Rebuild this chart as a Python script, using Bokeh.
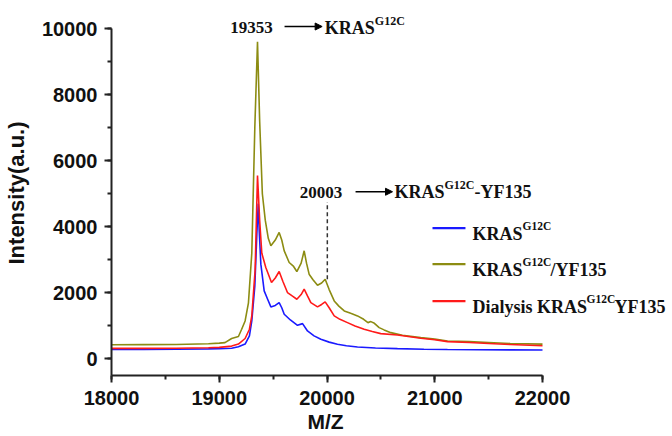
from bokeh.plotting import figure
from bokeh.models import Range1d, SingleIntervalTicker, Label, Arrow, NormalHead, Title
from bokeh.embed import file_html
from bokeh.resources import INLINE

# ---- data ----
blue_mz = [18000, 18300, 18600, 18900, 19000, 19115, 19178, 19240, 19280, 19302, 19330, 19349, 19362,
           19371, 19386, 19417, 19450, 19479, 19520, 19556, 19580, 19603, 19660, 19726, 19773, 19819,
           19880, 19943, 20020, 20097, 20180, 20283, 20450, 20654, 20900, 21118, 21400, 21700, 22000]
blue_i = [290, 292, 295, 305, 310, 324, 370, 450, 700, 1150, 2200, 3800, 4700,
          3880, 2870, 2060, 1800, 1576, 1620, 1707, 1550, 1354, 1180, 1020, 1070, 848,
          700, 596, 510, 444, 400, 364, 330, 313, 295, 285, 280, 275, 270]

olive_mz = [18000, 18300, 18600, 18900, 19000, 19053, 19115, 19178, 19208, 19240, 19271, 19302, 19330,
            19355, 19375, 19400, 19427, 19455, 19479, 19520, 19556, 19580, 19603, 19649, 19690, 19720,
            19760, 19788, 19810, 19834, 19870, 19912, 19950, 19983, 20020, 20067, 20110, 20160, 20220,
            20283, 20340, 20380, 20407, 20440, 20484, 20530, 20592, 20700, 20870, 21000, 21118, 21321,
            21500, 21700, 22000]
olive_i = [430, 435, 440, 460, 480, 495, 620, 680, 900, 1150, 1700, 3200, 7000,
           9600, 7200, 5000, 4200, 3650, 3424, 3600, 3828, 3600, 3273, 2919, 2800, 2646,
           2900, 3273, 2900, 2566, 2400, 2232, 2300, 2414, 2100, 1757, 1600, 1454, 1380,
           1303, 1200, 1100, 1131, 1080, 949, 880, 797, 720, 646, 600, 545, 525,
           500, 470, 450]

red_mz = [18000, 18300, 18600, 18900, 19000, 19115, 19178, 19240, 19280, 19302, 19333, 19355, 19375,
          19395, 19432, 19485, 19520, 19556, 19590, 19633, 19680, 19720, 19760, 19788, 19820, 19850,
          19912, 19950, 19983, 20020, 20067, 20120, 20190, 20260, 20345, 20420, 20499, 20654, 20870,
          21000, 21118, 21321, 21500, 21700, 22000]
red_i = [320, 320, 325, 340, 350, 390, 450, 620, 900, 1300, 2700, 5550, 4200,
         3200, 2768, 2313, 2450, 2646, 2350, 2010, 1900, 1808, 1950, 2111, 1900, 1707,
         1576, 1650, 1727, 1550, 1303, 1200, 1100, 1000, 899, 830, 767, 727, 626,
         580, 525, 500, 470, 440, 400]

series_names = ["KRAS", "KRAS", "Dialysis KRAS"]
series_tail = ["", "/YF135", "YF135"]
sup_text = "G12C"
peak_mz = [19353, 20003]
peak_labels = ["19353", "20003"]

BLUE = "#1a1aff"
OLIVE = "#8c8c12"
RED = "#ff1a1a"

p = figure(frame_width=556, frame_height=365, output_backend="svg", toolbar_location=None,
           x_range=Range1d(18000, 23160), y_range=Range1d(-500, 10545),
           min_border_left=106, min_border_top=10, min_border_right=0, min_border_bottom=40,
           background_fill_color="white", border_fill_color="white")
p.outline_line_color = None
p.grid.visible = False

p.line(blue_mz, blue_i, line_color=BLUE, line_width=1.6)
p.line(olive_mz, olive_i, line_color=OLIVE, line_width=1.6)
p.line(red_mz, red_i, line_color=RED, line_width=1.6)

# dashed marker at 20003
p.segment(x0=[peak_mz[1]], y0=[2414], x1=[peak_mz[1]], y1=[4750],
          line_color="#333333", line_width=1.5, line_dash="4 3")

# axes
p.xaxis.ticker = SingleIntervalTicker(interval=1000, num_minor_ticks=2)
p.yaxis.ticker = SingleIntervalTicker(interval=2000, num_minor_ticks=2)
p.xaxis.bounds = (18000, 22000)
p.yaxis.bounds = (-500, 10000)
for ax in (p.xaxis, p.yaxis):
    ax.axis_line_width = 2
    ax.axis_line_color = "#222222"
    ax.major_tick_line_width = 2
    ax.minor_tick_line_width = 2
    ax.major_tick_line_color = "#222222"
    ax.minor_tick_line_color = "#222222"
    ax.major_tick_in = 0
    ax.major_tick_out = 7
    ax.minor_tick_in = 0
    ax.minor_tick_out = 4
    ax.major_label_text_font = "Liberation Sans"
    ax.major_label_text_font_style = "bold"
    ax.major_label_text_font_size = "20px"
    ax.major_label_text_color = "#111111"
    ax.axis_label_text_font = "Liberation Sans"
    ax.axis_label_text_font_style = "bold"
    ax.axis_label_text_font_size = "22px"
    ax.axis_label_text_color = "#111111"
p.yaxis.axis_label = "Intensity(a.u.)"
p.xaxis.major_label_standoff = 8
p.yaxis.major_label_standoff = 7
p.yaxis.axis_label_standoff = 10

# x-axis title centred under the 18000-22000 axis
p.add_layout(Title(text="M/Z", align="left", offset=196, standoff=0,
                   text_font="Liberation Sans", text_font_style="bold",
                   text_font_size="21px", text_color="#111111"), "below")

SERIF = "Liberation Serif"

def lab(x, y, text, size, xo=0, yo=0, align="left"):
    p.add_layout(Label(x=x, y=y, text=text, x_offset=xo, y_offset=yo,
                       text_font=SERIF, text_font_style="bold", text_font_size=size,
                       text_color="#111111", text_align=align, text_baseline="alphabetic"))

# annotation 1
lab(19300, 9909, peak_labels[0], "17px", yo=4, align="center")
p.add_layout(Arrow(end=NormalHead(size=7, fill_color="black", line_color="black"),
                   x_start=19606, y_start=10060, x_end=19955, y_end=10060,
                   line_width=1.5, line_color="black"))
lab(19980, 9909, "KRAS", "18px", yo=4)
lab(19980, 9909, sup_text, "12px", xo=50, yo=11)

# annotation 2
lab(19944, 4918, peak_labels[1], "17px", yo=4, align="center")
p.add_layout(Arrow(end=NormalHead(size=7, fill_color="black", line_color="black"),
                   x_start=20265, y_start=5060, x_end=20608, y_end=5060,
                   line_width=1.5, line_color="black"))
lab(20626, 4918, "KRAS", "18px", yo=4)
lab(20626, 4918, sup_text, "12px", xo=50, yo=11)
lab(20626, 4918, "-YF135", "18px", xo=80, yo=4)

# custom legend
leg_y = [3960, 2870, 1750]
leg_colors = [BLUE, OLIVE, RED]
name_w = [50, 50, 114]
for k in range(3):
    p.line([20979, 21285], [leg_y[k], leg_y[k]], line_color=leg_colors[k], line_width=2.2)
    lab(21350, leg_y[k], series_names[k], "18px", yo=-6)
    lab(21350, leg_y[k], sup_text, "11.5px", xo=name_w[k], yo=2)
    if series_tail[k]:
        lab(21350, leg_y[k], series_tail[k], "18px", xo=name_w[k] + 28, yo=-6)

open("out.html", "w").write(file_html(p, INLINE))
